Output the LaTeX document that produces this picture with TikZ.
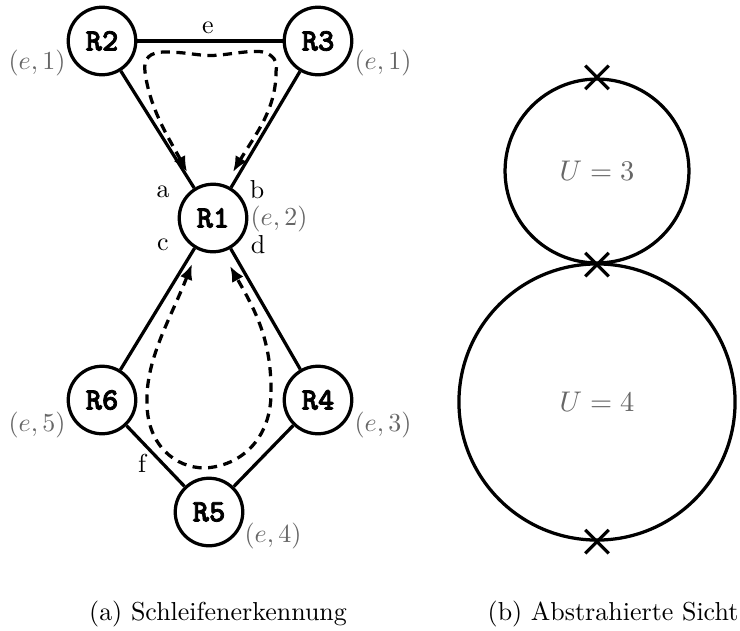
\documentclass[tikz,border=0pt]{standalone}
\usepackage{fontspec}
\usetikzlibrary{calc,arrows.meta,shapes.misc}
\newfontfamily\RouterFont{lmmonolt10-bold}[Extension=.otf, RawFeature={embolden=2.5}]
\newcommand{\RouterSize}{26pt}
\definecolor{LabelGray}{gray}{0.4}
\tikzset{Router/.style={
    circle,
    inner sep=0pt,
    minimum size=\RouterSize,
    line width=1.25pt,
    draw=black,
    font={\RouterFont\fontsize{12pt}{14}\selectfont}
    },
    Tag/.style={text=LabelGray, inner sep=0pt},
    Port/.style={inner sep=0pt},
    Link/.style={line width=1.25pt},
    Loop/.style={line width=1.25pt, dash pattern=on 3.5pt off 2.5pt,
        {Latex[length=6pt,width=5pt]}-{Latex[length=6pt,width=5pt]}},
    Ring/.style={circle, draw=black, line width=1.25pt, inner sep=0pt,
        text=LabelGray, font={\fontsize{11pt}{13}\selectfont}},
    Cross/.style={cross out, draw=black, line width=1.25pt, minimum size=7.8pt, inner sep=0pt}
}

\begin{document}
\begin{tikzpicture}[x=0.385pt, y=-0.385pt]
\useasboundingbox (0,0) rectangle (740,630);
% routers
\foreach \Name/\X/\Y in {R1/213/218, R2/102/41, R3/318/41, R4/318/400, R5/209/512, R6/102/400}
  \node [Router] (\Name) at (\X,\Y) {\Name};
% (e,n) tags
\foreach \Name/\DX/\DY/\Num in {R2/-65/22/1, R3/65/22/1, R1/66/1/2, R4/65/25/3, R5/64/24/4, R6/-65/25/5}
  \node [Tag] (T\Name) at ($(\Name)+(\DX,\DY)$) {$(e,\Num)$};
% links
\foreach \From/\To in {R2/R3, R2/R1, R3/R1, R1/R6, R1/R4, R6/R5, R4/R5}
  \draw [Link] (\From) -- (\To);
% interface letters
\foreach \Letter/\X/\Y in {a/163/192, b/257/190, c/163/245, d/258/245, e/208/28, f/142/463}
  \node [Port] (P\Letter) at (\X,\Y) {\Letter};
% loops
\coordinate (UpL) at (187,172);
\coordinate (UpR) at (233,172);
\coordinate (LowL) at (192,264);
\coordinate (LowR) at (230,266);
\draw [Loop] (UpL) .. controls (170,140) and (150,110) .. (145,72)
  .. controls (143,58) and (150,52) .. (165,52)
  .. controls (190,52) and (200,57) .. (220,55)
  .. controls (240,53) and (262,48) .. (270,55)
  .. controls (277,60) and (277,65) .. (276,72)
  .. controls (276,110) and (255,135) .. (UpR);
\draw [Loop] (LowL) .. controls (170,320) and (145,360) .. (147,405)
  .. controls (148,445) and (175,468) .. (205,468)
  .. controls (240,466) and (270,440) .. (271,395)
  .. controls (272,340) and (255,310) .. (LowR);
% abstract view
\node [Ring, minimum size=70.8pt] (U3) at (597,171) {$U=3$};
\node [Ring, minimum size=106.3pt] (U4) at (597,402) {$U=4$};
\node [Cross] (X1) at (U3.north) {};
\node [Cross] (X2) at (U3.south) {};
\node [Cross] (X3) at (U4.south) {};
% captions
\node [anchor=base] (CapA) at (218,620) {(a) Schleifenerkennung};
\node [anchor=base] (CapB) at (613,620) {(b) Abstrahierte Sicht};
\end{tikzpicture}
\end{document}
